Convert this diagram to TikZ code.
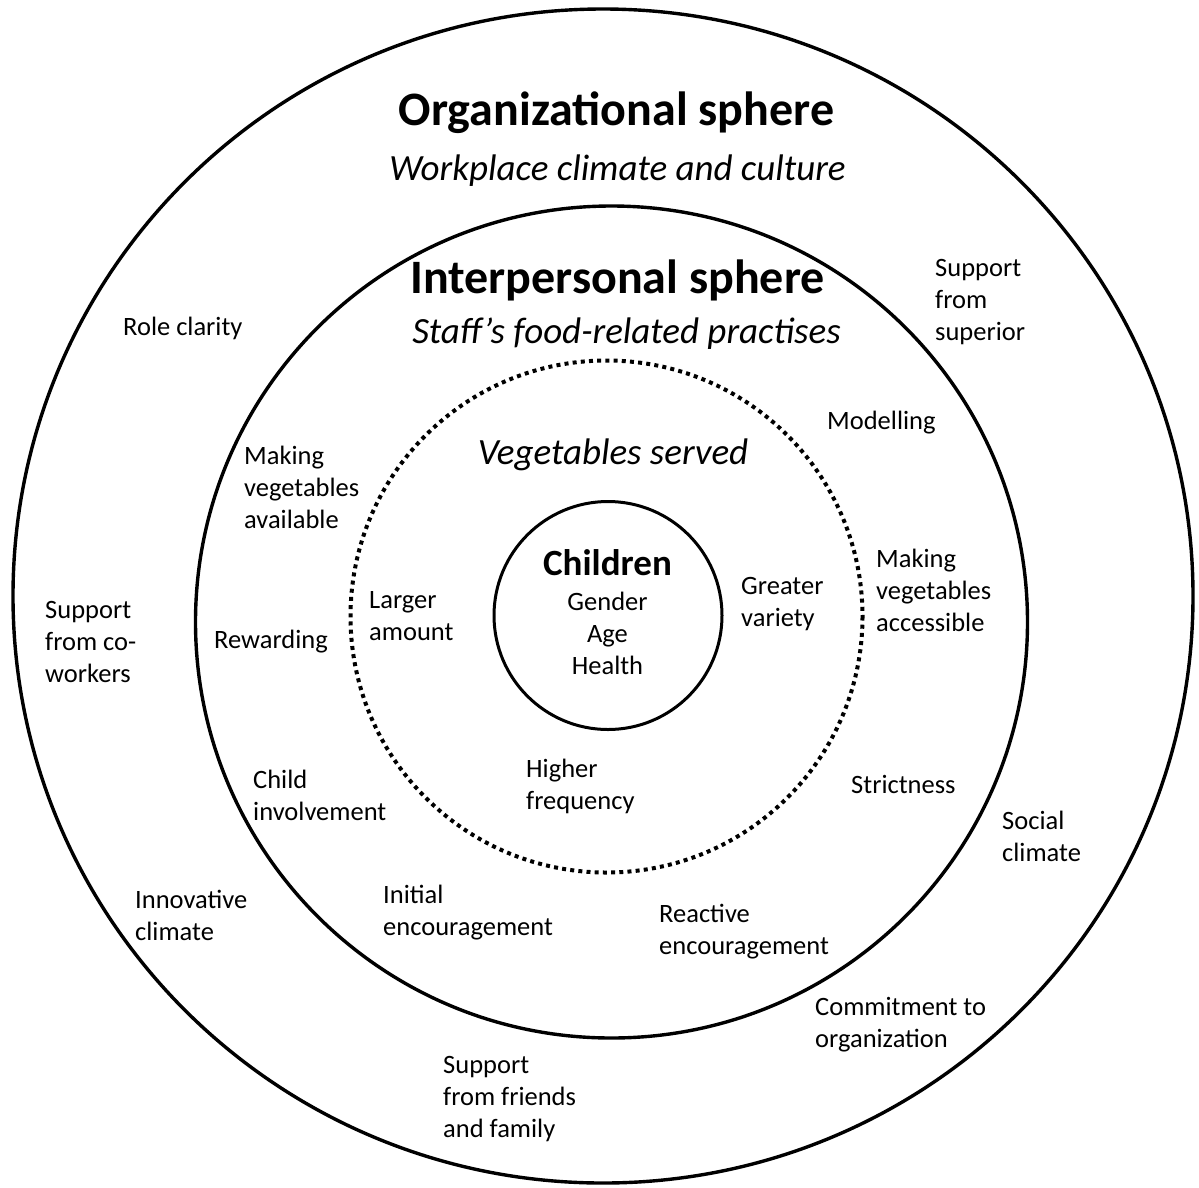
\documentclass[tikz,border=0pt]{standalone}
\usepackage{fontspec}
\setmainfont{Carlito}
\newcommand{\bodyfont}{\fontsize{26.5}{32}\selectfont}
\newcommand{\midfont}{\fontsize{37}{44}\selectfont}
\newcommand{\bigfont}{\fontsize{48}{58}\selectfont}
\begin{document}
\begin{tikzpicture}[x=1pt,y=-1pt,
  ring/.style={draw=black,line width=3.4pt},
  dotring/.style={draw=black,line width=4pt,dash pattern=on 4pt off 4.2pt},
  lbl/.style={anchor=base west,align=left,inner sep=0pt,font=\bodyfont},
  clbl/.style={anchor=base,align=center,inner sep=0pt,font=\bodyfont}]
\useasboundingbox[fill=white] (0,0) rectangle (1199,1187);
% circles
\draw[ring] (603,596) ellipse [x radius=590, y radius=587];
\draw[ring] (611.5,622) circle [radius=416];
\draw[dotring] (606.5,616.5) circle [radius=256];
\draw[ring,line width=3pt] (608,615.5) circle [radius=114];
% titles (anchors at baseline; multi-line nodes anchored at last line's baseline)
\node[anchor=base,inner sep=0pt,font=\bigfont\bfseries] (org) at (616.5,125) {Organizational sphere};
\node[anchor=base,inner sep=0pt,font=\midfont\itshape] (orgsub) at (617.5,180) {Workplace climate and culture};
\node[anchor=base,inner sep=0pt,font=\bigfont\bfseries] (inter) at (617.5,293) {Interpersonal sphere};
\node[anchor=base,inner sep=0pt,font=\midfont\itshape] (intersub) at (626.5,343) {Staff’s food-related practises};
\node[anchor=base,inner sep=0pt,font=\midfont\itshape] (veg) at (613,464) {Vegetables served};
\node[anchor=base,inner sep=0pt,font=\midfont\bfseries] (child) at (607.5,575) {Children};
\node[clbl] (attrs) at (607.5,674) {Gender\\Age\\Health};
% organizational ring
\node[lbl] (role) at (123,335) {Role clarity};
\node[lbl] (superior) at (935,340) {Support\\from\\superior};
\node[lbl] (coworkers) at (45,682) {Support\\from co-\\workers};
\node[lbl] (social) at (1002,861) {Social\\climate};
\node[lbl] (innov) at (135,940) {Innovative\\climate};
\node[lbl] (commit) at (815,1047) {Commitment to\\organization};
\node[lbl] (friends) at (443,1137) {Support\\from friends\\and family};
% interpersonal ring
\node[lbl] (model) at (827,429) {Modelling};
\node[lbl] (avail) at (244,528) {Making\\vegetables\\available};
\node[lbl] (access) at (876,631) {Making\\vegetables\\accessible};
\node[lbl] (reward) at (214,648) {Rewarding};
\node[lbl] (involve) at (253,820) {Child\\involvement};
\node[lbl] (strict) at (851,793) {Strictness};
\node[lbl] (initial) at (383,935) {Initial\\encouragement};
\node[lbl] (reactive) at (659,954) {Reactive\\encouragement};
% vegetables ring
\node[lbl] (larger) at (369,640) {Larger\\amount};
\node[lbl] (variety) at (741,626) {Greater\\variety};
\node[lbl] (freq) at (526,809) {Higher\\frequency};
\end{tikzpicture}
\end{document}
